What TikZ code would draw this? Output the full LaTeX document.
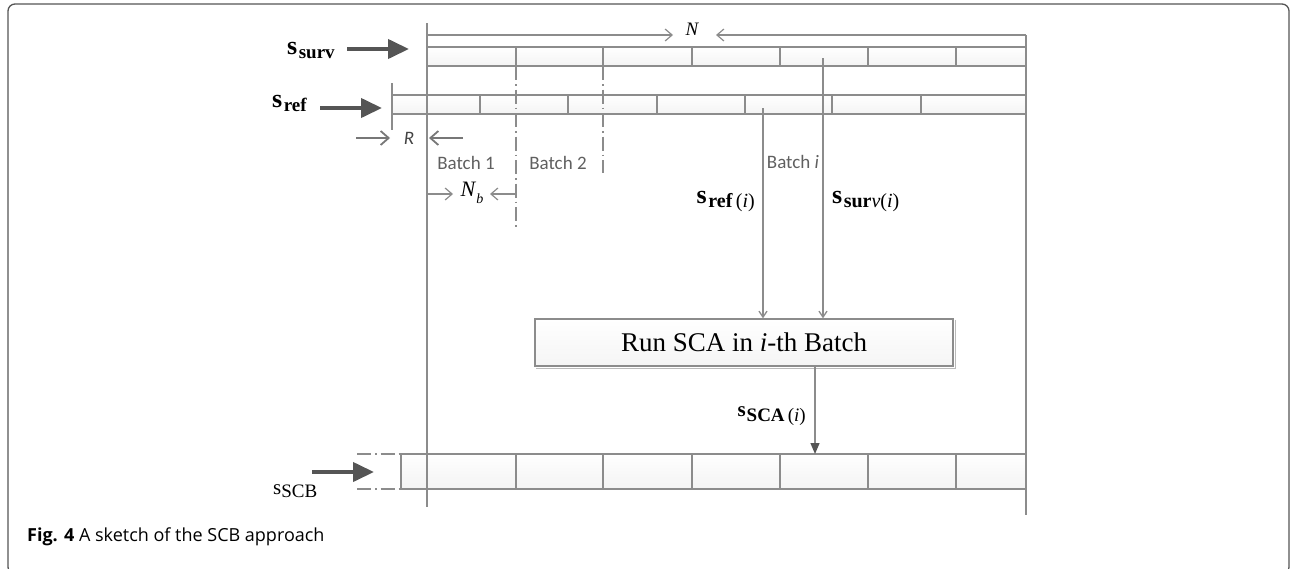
\documentclass[tikz,border=0pt]{standalone}
\usepackage{fontspec}
\setmainfont{Liberation Serif}
\newfontfamily\calib{Carlito}
\newfontfamily\capfont{Open Sans}
\usetikzlibrary{arrows.meta,calc}
\definecolor{linegray}{HTML}{8C8C8C}
\definecolor{darkgray}{HTML}{555555}
\definecolor{textgray}{HTML}{606060}
\newcommand{\sig}[3]{{\fontsize{#1}{#1}\selectfont\textbf{s}}\hspace{1.5pt}\raisebox{-0.4em}{\fontsize{#2}{#2}\selectfont #3}}
\begin{document}
\begin{tikzpicture}[x=1pt,y=-1pt,
  cell/.style={draw=linegray,line width=1.4pt,top color=white,bottom color=gray!9},
  vline/.style={draw=linegray,line width=1.4pt},
  dashdot/.style={draw=linegray,line width=1.4pt,dash pattern=on 14pt off 4pt on 1.5pt off 4pt},
  thinarrow/.style={draw=linegray,line width=1.2pt,-{Straight Barb[length=7pt,width=12pt]}},
  darkarrow/.style={draw=darkgray!80,line width=1.8pt,-{Straight Barb[length=8pt,width=14pt]}},
  bigarrow/.style={draw=darkgray,line width=4pt,-{Triangle[length=21pt,width=19pt]}},
  downarrow/.style={draw=linegray,line width=1.3pt,-{Straight Barb[length=6pt,width=8pt]}},
  fillarrow/.style={draw=linegray,line width=1.3pt,-{Triangle[length=11pt,width=9pt,fill=darkgray,color=darkgray]}},
  batchlbl/.style={font=\calib\fontsize{19}{19}\selectfont,text=textgray,inner sep=0pt},
  sig/.style={inner sep=0pt,text=black}]
\useasboundingbox (0,0) rectangle (1292,568);
\clip (0,0) rectangle (1292,568);
% frame
\draw[darkgray,line width=1.3pt,rounded corners=7pt] (8,4) rectangle (1289,574);
% rows
\foreach \a/\b in {427/516,516/603,603/692,692/780,780/868,868/956,956/1026}
  \draw[cell] (\a,47) rectangle (\b,66);
\foreach \a/\b in {392/480,480/568,568/657,657/745,745/832,832/921,921/1026}
  \draw[cell] (\a,95) rectangle (\b,114);
\foreach \a/\b in {401/516,516/603,603/692,692/780,780/868,868/956,956/1026}
  \draw[cell] (\a,454) rectangle (\b,489);
\draw[dashdot] (357,454) -- (401,454);
\draw[dashdot] (357,489) -- (401,489);
% long verticals
\draw[vline] (427,23) -- (427,507);
\draw[vline] (1026,35) -- (1026,515);
\draw[vline] (392,83) -- (392,130);
% batch separators
\draw[dashdot] (516,66) -- (516,228);
\draw[dashdot] (603,66) -- (603,173);
% N
\node[inner sep=0pt,font=\itshape\fontsize{19}{19}\selectfont] (N) at (692,29) {N};
\coordinate (Nl) at (427,35);
\coordinate (Nr) at (1026,35);
\draw[thinarrow] (Nl) -- (673,35);
\draw[thinarrow] (Nr) -- (716,35);
% R
\node[inner sep=0pt,font=\calib\itshape\fontsize{19}{19}\selectfont,text=textgray!70!black] (R) at (409,138) {R};
\coordinate (Rl) at (356,138);
\coordinate (Rr) at (463,138);
\draw[darkarrow] (Rl) -- (390,138);
\draw[darkarrow] (Rr) -- (429,138);
% batches
\node[batchlbl] (b1) at (466,163) {Batch 1};
\node[batchlbl] (b2) at (558,163) {Batch 2};
\node[batchlbl] (bi) at (793,162) {Batch \textit{i}};
% Nb
\node[inner sep=0pt,font=\fontsize{22}{22}\selectfont] (Nb) at (472,193) {\textit{N}\raisebox{-0.35em}{\fontsize{14}{14}\selectfont\textit{b}}};
\coordinate (Nbl) at (427,194);
\coordinate (Nbr) at (516,194);
\draw[thinarrow] (Nbl) -- (453,194);
\draw[thinarrow] (Nbr) -- (490,194);
% signal labels
\node[sig,anchor=west] (ssurv) at (287,50) {\sig{26}{19}{\textbf{surv}}};
\node[sig,anchor=west] (sref) at (272,103) {\sig{26}{19}{\textbf{ref}}};
\node[sig,anchor=east] (srefi) at (755,201) {\sig{26}{20}{\textbf{ref}\,(\textit{i})}};
\node[sig,anchor=west] (ssurvi) at (832,201) {\sig{26}{20}{\textbf{sur}\textit{v}(\textit{i})}};
\node[sig,anchor=east] (sscai) at (806,416) {{\fontsize{21}{21}\selectfont\textbf{s}}\hspace{1pt}\raisebox{-0.45em}{\fontsize{19}{19}\selectfont\textbf{SCA}\,(\textit{i})}};
\node[sig,anchor=west] (sscb) at (273,491) {{\fontsize{21}{21}\selectfont s}\raisebox{-0.35em}{\fontsize{19}{19}\selectfont SCB}};
% big arrows
\coordinate (a1s) at (347,49); \coordinate (a1e) at (409,49);
\coordinate (a2s) at (320,108); \coordinate (a2e) at (382,108);
\coordinate (a3s) at (312,472); \coordinate (a3e) at (374,472);
\draw[bigarrow] (a1s) -- (a1e);
\draw[bigarrow] (a2s) -- (a2e);
\draw[bigarrow] (a3s) -- (a3e);
% box
\node[draw=linegray,line width=1.4pt,top color=white,bottom color=gray!8,minimum width=418pt,minimum height=47pt,inner sep=0pt,font=\fontsize{27}{27}\selectfont] (box) at (744,342.5) {Run SCA in \textit{i}-th Batch};
\draw[linegray!60,line width=1.5pt] ($(box.south west)+(2,2)$) -- ($(box.south east)+(2,2)$) -- ($(box.north east)+(2,2)$);
\coordinate (ri) at (763,108);
\coordinate (si) at (823,58);
\draw[downarrow] (ri) -- (ri |- box.north);
\draw[downarrow] (si) -- (si |- box.north);
\coordinate (scbtop) at (815,454);
\draw[fillarrow] (box.south -| scbtop) -- (scbtop);
% caption
\node[anchor=base west,inner sep=0pt,font=\capfont\fontsize{18}{18}\selectfont] (cap) at (27,541) {\textbf{Fig. 4} A sketch of the SCB approach};
\end{tikzpicture}
\end{document}
